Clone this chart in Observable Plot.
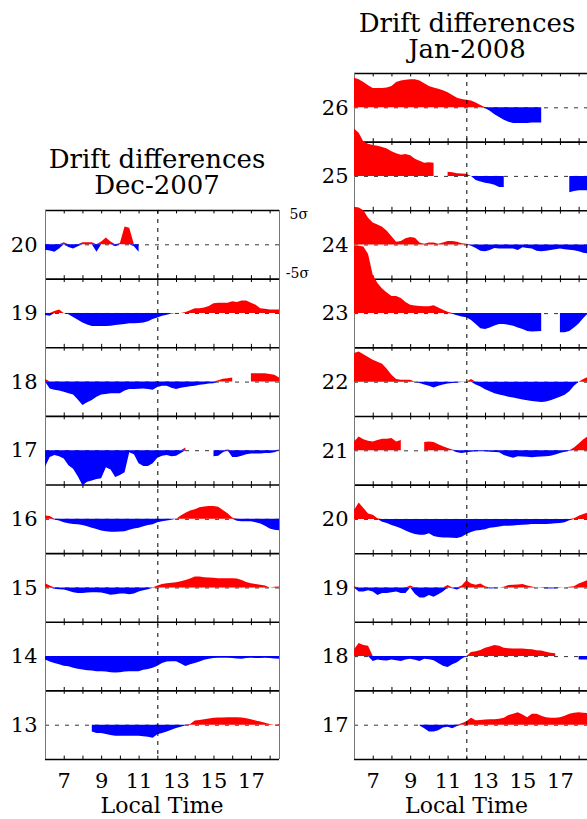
<!DOCTYPE html>
<html>
<head>
<meta charset="utf-8">
<script src="https://cdn.jsdelivr.net/npm/d3@7"></script>
<script src="https://cdn.jsdelivr.net/npm/@observablehq/plot@0.6"></script>
<style>
  body { margin:0; width:587px; height:819px; overflow:hidden; position:relative; background:white; font-family:"DejaVu Serif", serif; color:#000; }
  .abs { position:absolute; }
  .title { font-size:26px; line-height:26px; text-align:center; white-space:nowrap; }
  .sig { font-size:14px; line-height:16px; text-align:right; width:40px; white-space:nowrap; }
  .xl { font-size:22px; line-height:24px; text-align:center; white-space:nowrap; }
</style>
</head>
<body>
<div id="left" class="abs" style="left:0;top:0;width:300px;"></div>
<div id="right" class="abs" style="left:300px;top:0;width:300px;"></div>
<div class="abs title" style="left:0;top:146px;width:314px;">Drift differences<br>Dec-2007</div>
<div class="abs title" style="left:267px;top:10px;width:400px;">Drift differences<br>Jan-2008</div>
<div class="abs sig" style="left:268px;top:206px;">5σ</div>
<div class="abs sig" style="left:269px;top:265px;">-5σ</div>
<div class="abs xl" style="left:0;top:794px;width:324px;">Local Time</div>
<div class="abs xl" style="left:300px;top:794px;width:333px;">Local Time</div>
<script>
const N = null;
// hour grid: 6.00 .. 18.50 every 0.25 h (51 samples per day)
const hourGrid = d3.range(0, 51).map(i => 6 + i * 0.25);
const tickHours = [7, 9, 11, 13, 15, 17];
const minorHours = [7, 8, 9, 10, 11, 12, 13, 14, 15, 16, 17, 18];

// ---- Dec-2007 (values in sigma) ----
const decDays = [20, 19, 18, 17, 16, 15, 14, 13];
const dec20 = [-0.8,-0.9,-1.1,-0.6, 0.3,-0.4,-0.6,-0.3, 0.3,0.3,0.3,-1.1, 0.4,1.0,0.4,-0.3, 0.2,2.6,2.4,-0.3, -1.1,N,N,N, N,N,N,N, N,N,N,N, N,N,N,N, N,N,N,N, N,N,N,N, N,N,N,N, N,N,N];
const dec19 = [-0.3,-0.4,0.3,0.5, 0.0,-0.2,-0.6,-1.0, -1.4,-1.7,-1.9,-1.9, -1.9,-1.9,-1.85,-1.75, -1.7,-1.6,-1.5,-1.5, -1.45,-1.4,-1.2,-0.9, -0.65,-0.4,-0.25,-0.1, 0.0,0.0,0.15,0.4, 0.7,0.7,0.8,1.0, 1.4,1.5,1.5,1.5, 1.7,1.6,1.8,1.8, 1.5,1.2,0.7,0.6, 0.5,0.5,0.5];
const dec18 = [0.4,-1.0,-1.2,-1.3, -1.5,-1.7,-1.9,-2.6, -3.4,-3.0,-2.7,-2.2, -1.9,-1.8,-1.7,-1.7, -1.7,-1.3,-1.1,-1.1, -1.05,-1.0,-1.1,-1.2, -0.8,-0.6,-0.6,-0.9, -1.1,-0.9,-0.8,-0.7, -0.6,-0.45,-0.4,-0.3, -0.25,0.2,0.4,0.5, 0.6,N,N,N, 1.2,1.2,1.2,1.2, 1.1,1.0,0.6];
const dec17 = [-2.4,-1.0,-0.7,-0.9, -1.2,-2.2,-2.7,-3.8, -5.1,-4.6,-4.4,-4.2, -4.1,-2.5,-2.8,-3.9, -3.6,-3.2,-0.3,-0.6, -1.9,-2.3,-2.3,-1.9, -1.1,-0.8,-0.7,-0.9, -0.8,-0.4,0.4,N, N,N,N,N, -0.9,-0.8,-0.3,0.1, -1.0,-1.0,-0.8,-0.6, -0.5,-0.5,-0.5,-0.4, -0.4,-0.3,0.1];
const dec16 = [0.5,0.4,-0.1,-0.25, -0.5,-0.65,-0.75,-0.8, -0.9,-1.1,-1.3,-1.5, -1.7,-1.8,-1.9,-1.9, -1.85,-1.8,-1.6,-1.4, -1.3,-1.1,-0.9,-0.8, -0.5,-0.35,-0.25,-0.15, 0.0,0.5,0.9,1.2, 1.4,1.7,1.8,1.85, 1.85,1.75,1.3,0.8, 0.2,-0.3,-0.35,-0.35, -0.35,-0.5,-0.7,-1.0, -1.4,-1.6,-1.65];
const dec15 = [0.6,0.3,-0.2,-0.25, -0.3,-0.5,-0.7,-0.8, -0.8,-0.75,-0.7,-0.7, -0.75,-0.9,-1.05,-1.0, -0.9,-0.9,-1.0,-0.9, -0.6,-0.4,-0.25,-0.05, 0.3,0.5,0.6,0.7, 0.75,0.9,1.1,1.3, 1.6,1.6,1.5,1.45, 1.4,1.35,1.35,1.35, 1.35,1.3,1.1,0.8, 0.6,0.5,0.4,0.3, 0.0,0.1,0.15];
const dec14 = [-0.5,-0.8,-1.0,-1.2, -1.4,-1.5,-1.7,-1.85, -1.95,-2.05,-2.1,-2.2, -2.2,-2.25,-2.35,-2.4, -2.35,-2.25,-2.2,-2.2, -2.2,-2.0,-1.9,-1.7, -1.4,-1.0,-0.8,-0.75, -0.75,-1.1,-1.45,-1.2, -1.0,-0.8,-0.55,-0.4, -0.3,-0.25,-0.25,-0.25, -0.3,-0.35,-0.4,-0.3, -0.25,-0.3,-0.3,-0.25, -0.3,-0.35,-0.4];
const dec13 = [N,N,N,N, N,N,N,N, N,N,-1.0,-1.2, -1.2,-1.35,-1.5,-1.6, -1.6,-1.6,-1.6,-1.6, -1.6,-1.7,-1.75,-1.9, -1.4,-1.2,-1.0,-0.75, -0.5,-0.3,-0.1,0.1, 0.6,0.7,0.8,0.9, 1.0,1.05,1.05,1.1, 1.1,1.1,1.05,0.95, 0.8,0.6,0.45,0.3, 0.1,0.0,0.1];
const decValues = [dec20, dec19, dec18, dec17, dec16, dec15, dec14, dec13];

// ---- Jan-2008 (values in sigma) ----
const janDays = [26, 25, 24, 23, 22, 21, 20, 19, 18, 17];
const jan26 = [4.3,4.1,3.7,3.2, 2.8,2.8,2.8,2.9, 3.1,3.7,3.9,4.0, 4.1,4.1,3.9,3.5, 3.1,2.9,2.7,2.5, 2.2,1.8,1.4,1.2, 1.1,1.0,0.7,0.35, -0.1,-0.5,-1.0,-1.4, -1.8,-2.1,-2.3,-2.3, -2.3,-2.3,-2.2,-2.2, -2.2,N,N,N, N,N,N,N, N,N,N];
const jan25 = [6.9,6.3,5.0,4.7, 4.5,4.4,4.2,4.0, 3.6,3.3,3.1,3.2, 3.0,2.5,2.2,1.9, 2.0,1.9,N,N, 0.6,0.55,0.4,0.35, 0.3,0.0,-0.6,-0.8, -1.0,-1.1,-1.3,-1.6, -1.6,N,N,N, N,N,N,N, N,N,N,N, N,N,-2.4,-2.2, -2.1,-2.1,-2.1];
const jan24 = [5.5,5.4,5.0,3.9, 3.2,2.9,2.6,2.0, 1.2,0.4,0.5,0.9, 1.1,1.0,0.3,0.1, 0.3,0.3,0.1,0.3, 0.5,0.5,0.4,0.2, 0.1,-0.2,-0.5,-0.9, -1.0,-0.8,-0.5,-0.6, -0.6,-0.6,-0.6,-0.8, -0.4,-0.5,-0.6,-0.9, -1.0,-0.9,-0.8,-0.7, -0.6,-0.7,-0.75,-0.85, -1.0,-1.2,-1.3];
const jan23 = [9.8,9.8,9.7,8.6, 5.6,4.4,3.6,3.0, 2.5,2.5,2.2,1.6, 1.2,1.1,1.05,1.0, 1.0,1.15,0.8,0.5, 0.2,-0.1,-0.3,-0.5, -0.6,-1.0,-1.6,-2.2, -2.3,-2.1,-1.8,-1.6, -1.6,-1.7,-1.85,-2.1, -2.3,-2.6,-2.7,-2.65, -2.6,N,N,N, -2.8,-2.8,-2.6,-2.1, -1.5,-0.7,0.0];
const jan22 = [4.2,4.4,4.0,3.6, 3.2,2.9,2.6,1.9, 1.0,0.4,0.3,0.3, 0.3,0.0,-0.2,-0.4, -0.6,-0.85,-0.6,-0.4, -0.25,-0.2,-0.1,-0.05, 0.0,0.4,-0.4,-0.7, -1.1,-1.4,-1.7,-1.85, -2.0,-2.2,-2.3,-2.45, -2.6,-2.7,-2.8,-2.9, -2.95,-2.9,-2.7,-2.45, -2.2,-1.9,-1.4,-0.6, 0.0,0.4,0.7];
const jan21 = [1.3,2.0,1.6,1.4, 1.3,1.5,1.7,1.7, 1.8,1.3,1.5,N, N,N,N,1.2, 1.3,1.2,0.9,0.6, 0.35,0.1,-0.3,-0.4, -0.3,-0.2,-0.15,-0.15, -0.15,-0.2,-0.25,-0.3, -0.7,-0.9,-1.1,-0.85, -0.9,-0.95,-1.0,-0.95, -0.9,-0.85,-0.8,-0.6, -0.4,-0.2,-0.05,0.4, 1.0,1.6,2.1];
const jan20 = [1.3,2.4,1.6,0.8, 0.6,0.1,-0.4,-0.6, -0.9,-1.1,-1.35,-1.7, -2.0,-2.2,-2.3,-2.3, -2.1,-2.5,-2.65,-2.7, -2.7,-2.75,-2.8,-2.6, -2.2,-1.9,-1.7,-1.6, -1.5,-1.3,-1.2,-1.1, -1.0,-1.0,-0.95,-0.9, -0.85,-0.8,-0.75,-0.75, -0.75,-0.75,-0.7,-0.65, -0.6,-0.5,-0.2,0.1, 0.45,0.7,0.95];
const jan19 = [0.2,-0.6,-0.6,-0.4, -0.6,-1.1,-0.8,-0.8, -0.7,-0.6,-0.8,-0.8, 0.3,-0.9,-1.45,-1.45, -1.1,-1.35,-1.0,-0.6, 0.35,-0.1,-0.3,0.3, 1.05,0.6,0.4,0.6, 0.2,-0.15,-0.1,0.0, 0.1,0.35,0.4,0.45, 0.5,0.3,0.15,0.0, -0.05,-0.1,-0.15,-0.1, -0.05,0.0,0.1,0.2, 0.6,0.85,1.1];
const jan18 = [1.0,1.9,1.6,1.5, -0.7,-0.5,-0.6,-0.65, -0.5,-0.6,-0.7,-0.5, -0.4,-0.55,-0.7,-0.4, -0.45,-0.6,-1.0,-1.4, -1.6,-1.2,-0.9,-0.4, 0.0,0.6,0.7,0.9, 1.2,1.4,1.6,1.5, 1.2,1.15,1.1,1.1, 1.1,1.05,1.0,0.85, 0.8,0.65,0.5,0.4, N,N,N,N, -0.5,-0.5,-0.5];
const jan17 = [N,N,N,N, N,N,N,N, N,N,N,N, N,N,-0.1,-0.5, -1.0,-1.0,-0.8,-0.4, -0.3,-0.5,-0.2,0.2, 0.5,1.0,0.65,0.7, 0.75,0.8,0.8,0.85, 1.0,1.4,1.6,1.8, 1.5,1.1,1.6,1.6, 1.3,1.1,1.0,1.0, 1.1,1.3,1.6,1.75, 1.8,1.75,1.7];
const janValues = [jan26, jan25, jan24, jan23, jan22, jan21, jan20, jan19, jan18, jan17];

function panel(days, values, top, ml, mr) {
  const lo = days[days.length - 1] * 10 - 5, hi = days[0] * 10 + 5;
  const rec = [];
  days.forEach((d, k) => values[k].forEach((v, i) => rec.push({day: d, h: hourGrid[i], v, base: d * 10})));
  const seps = d3.range(lo, hi + 1, 10);
  const ticks = [];
  seps.forEach(s => minorHours.forEach(h => ticks.push({h,
    y1: s === lo ? s : s - 0.5,
    y2: s === hi ? s : s + 0.5})));
  return Plot.plot({
    width: 300, height: 819,
    marginTop: top, marginBottom: 60, marginLeft: ml, marginRight: mr,
    x: {domain: [6, 18.5]},
    y: {domain: [lo, hi]},
    style: {fontFamily: "DejaVu Serif", fontSize: "21px", background: "transparent", overflow: "visible", color: "black"},
    marks: [
      Plot.ruleY(days, {y: d => d * 10, stroke: "#333", strokeWidth: 1, strokeDasharray: "4,6"}),
      Plot.ruleY(seps, {stroke: "black", strokeWidth: 1.6}),
      Plot.ruleX(ticks, {x: "h", y1: "y1", y2: "y2", stroke: "black", strokeWidth: 1}),
      Plot.ruleX([6, 18.5], {stroke: "#777", strokeWidth: 1}),
      Plot.areaY(rec, {x: "h", y1: "base", y2: d => d.v == null ? NaN : d.base + Math.max(d.v, 0), z: "day", fill: "#ff0000", curve: "linear"}),
      Plot.areaY(rec, {x: "h", y1: "base", y2: d => d.v == null ? NaN : d.base + Math.min(d.v, 0), z: "day", fill: "#0000ff", curve: "linear"}),
      Plot.ruleX([12], {stroke: "black", strokeWidth: 1, strokeDasharray: "4,5"}),
      Plot.axisY({ticks: days.map(d => d * 10), tickFormat: v => String(v / 10), tickSize: 0, tickPadding: ml === 45 ? 8 : 6, label: null, fontSize: 21, fontFamily: "DejaVu Serif"}),
      Plot.axisX({ticks: tickHours, tickSize: 0, tickPadding: 14, label: null, fontSize: 21, fontFamily: "DejaVu Serif"})
    ]
  });
}

document.getElementById("left").append(panel(decDays, decValues, 210, 45, 21));
document.getElementById("right").append(panel(janDays, janValues, 73, 54, 12));
</script>
</body>
</html>
